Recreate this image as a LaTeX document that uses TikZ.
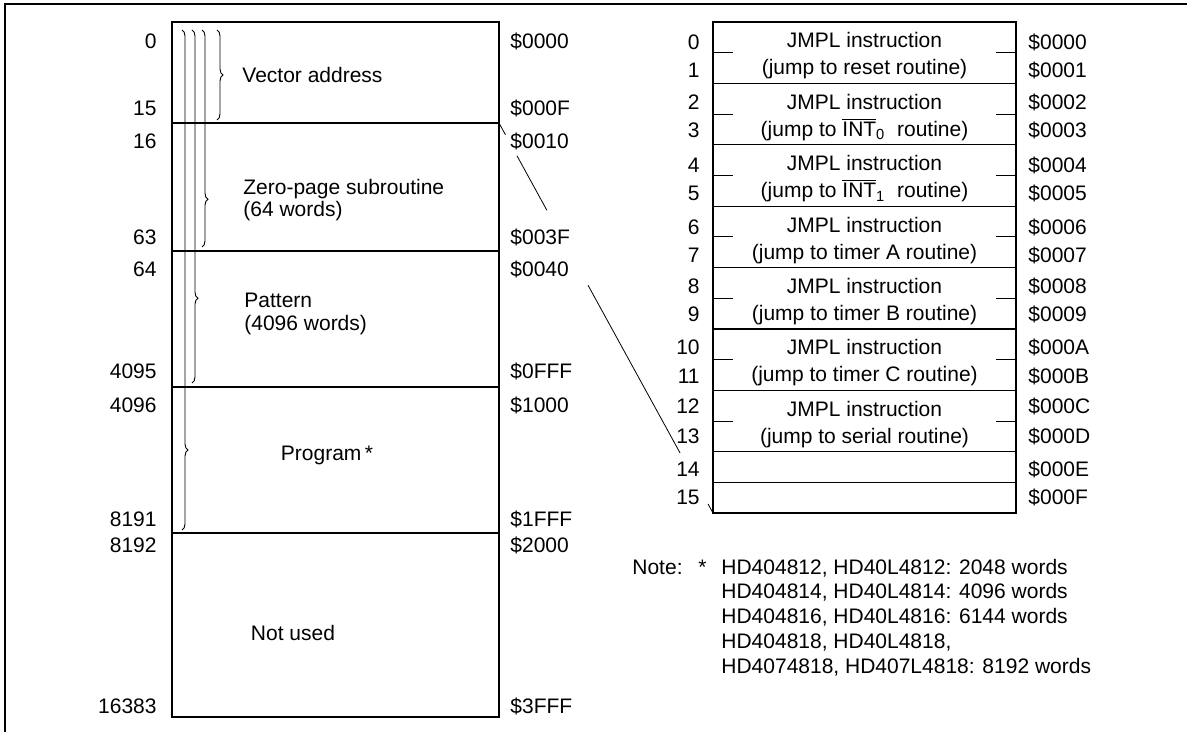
\documentclass[tikz,border=0pt]{standalone}
\usepackage{fontspec}
\setmainfont{Liberation Sans}
\usetikzlibrary{decorations.pathreplacing,calc}

\newcommand{\intbar}[1]{$\overline{\mbox{INT}}$\textsubscript{#1}}

\tikzset{
  lbl/.style={inner sep=0pt, text height=0.72em, text depth=0pt},
  num/.style={lbl, anchor=east},
  adr/.style={lbl, anchor=west},
  memline/.style={line width=0.6pt},
  brc/.style={decorate, decoration={brace, amplitude=3pt, aspect=#1}, line width=0.45pt},
  jmpl/.style={inner sep=0pt, align=center, font=\fontsize{10.5}{13.5}\selectfont},
  twoline/.style={inner sep=0pt, anchor=west, align=left, font=\fontsize{10.5}{11.2}\selectfont},
}

\begin{document}
\begin{tikzpicture}[x=0.5pt, y=-0.5pt, font=\fontsize{10.5}{12.6}\selectfont]
  \useasboundingbox (0,0) rectangle (1187,732);
  % frame
  \draw[memline] (1187,4) -- (5,4) -- (5,732);

  % memory map
  \draw[memline] (172,22) rectangle (499,717);
  \foreach \y in {123,251,387,533}
    \draw[memline] (172,\y) -- (499,\y);
  \coordinate (zpTop) at (499,123);

  \foreach \n/\a/\y [count=\i] in {0/0000/41, 15/000F/108, 16/0010/141,
      63/003F/237, 64/0040/269, 4095/0FFF/371, 4096/1000/405,
      8191/1FFF/519, 8192/2000/545, 16383/3FFF/706} {
    \node[num] (dec\i) at (157,\y) {\n};
    \node[adr] (hex\i) at (510,\y) {\$\a};
  }

  % braces
  \draw[brc=0.5]  (217,30) -- (217,120);
  \draw[brc=0.78] (202,30) -- (202,247);
  \draw[brc=0.76] (192,30) -- (192,383);
  \draw[brc=0.84] (182,30) -- (182,530);

  \node[lbl, anchor=west] (vecLbl) at (242,75) {Vector address};
  \node[twoline] (zpLbl) at (243,200) {Zero-page subroutine\\(64 words)};
  \node[twoline] (patLbl) at (244,314) {Pattern\\(4096 words)};
  \node[lbl] (prgLbl) at (327,453) {Program\,*};
  \node[lbl] (nuLbl) at (293,633) {Not used};

  % vector table
  \coordinate (tblNW) at (713,22);
  \coordinate (tblSE) at (1016,513);
  \coordinate (tblSW) at (713,513);
  \draw[memline] (tblNW) rectangle (tblSE);
  \foreach \k in {1,...,7}
    \draw[memline] (713,{22+61.4*\k}) -- (1016,{22+61.4*\k});
  \draw[memline] (713,482.3) -- (1016,482.3);
  \foreach \k in {0,...,6} {
    \draw (713,{52.7+61.4*\k}) -- +(20,0);
    \draw (1016,{52.7+61.4*\k}) -- +(-20,0);
  }
  \foreach \t [count=\k from 0] in {reset routine, {\intbar{0}\ \ routine},
      {\intbar{1}\ \ routine}, timer A routine, timer B routine,
      timer C routine, serial routine}
    \node[jmpl] (blk\k) at (864.5,{56+61.4*\k}) {JMPL instruction\\(jump to \t)};

  \foreach \y/\h [count=\r from 0] in {42/0,70/1,102/2,130/3,165/4,193/5,
      227/6,255/7,286/8,314/9,347/A,376/B,406/C,436/D,469/E,497/F} {
    \node[num] (row\r) at (700,\y) {\r};
    \node[adr] (vec\r) at (1028,\y) {\$000\h};
  }

  % link between the two maps
  \foreach \s/\e in {0/0.03, 0.084/0.224, 0.416/0.846, 0.977/1}
    \draw ($(zpTop)!\s!(tblSW)$) -- ($(zpTop)!\e!(tblSW)$);

  % note
  \node[lbl, anchor=west] (noteHd) at (632,567) {Note:};
  \node[lbl, anchor=west] (noteAst) at (698,567) {*};
  \foreach \l [count=\i from 0] in {{HD404812, HD40L4812: 2048 words},
      {HD404814, HD40L4814: 4096 words}, {HD404816, HD40L4816: 6144 words},
      {HD404818, HD40L4818,}, {HD4074818, HD407L4818: 8192 words}}
    \node[lbl, anchor=west] (note\i) at (721,{567+24.7*\i}) {\l};
\end{tikzpicture}
\end{document}
